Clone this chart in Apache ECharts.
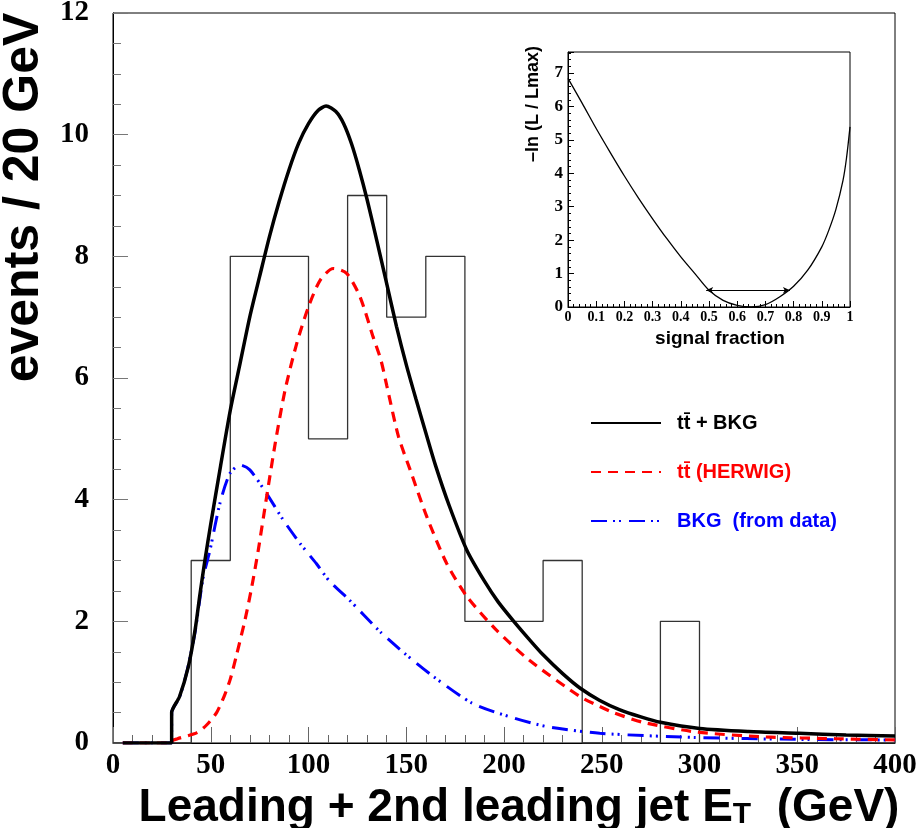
<!DOCTYPE html>
<html>
<head>
<meta charset="utf-8">
<script src="https://cdn.jsdelivr.net/npm/echarts@6/dist/echarts.min.js"></script>
<style>
html,body{margin:0;padding:0;background:#fff;}
#c{width:920px;height:828px;}
</style>
</head>
<body>
<div id="c"></div>
<script>
// ---- main histogram (data, 20 GeV bins from 0 to 400) ----
const histBinWidth = 20;
const histCounts = [0,0,3,8,8,5,9,7,8,2,2,3,0,0,2,0,0,0,0,0];

// ---- tt + BKG (total fit) ----
const totX = [5,30,30,34,38.5,42,44.5,47,50,55,60,65,70,75,80,85,90,95,100,105,109,114,118,122,126,130,135,140,145,150,155,160,165,172,181,190,197,205,213,220,230,239,249,259,270,280,300,325,351,375,400];
const totY = [0,0,0.5,0.76,1.25,1.86,2.45,3.0,3.6,4.55,5.47,6.24,7.01,7.67,8.32,8.9,9.42,9.86,10.18,10.4,10.47,10.38,10.18,9.85,9.42,8.93,8.25,7.55,6.85,6.22,5.65,5.1,4.56,3.9,3.17,2.66,2.32,2.0,1.7,1.45,1.14,0.9,0.7,0.55,0.43,0.34,0.24,0.19,0.16,0.13,0.115];

// ---- tt (HERWIG) ----
const ttX = [5,30,30,33,43,48,53,57,60,63,67.5,71,74.3,78.6,83,88,94,100,106,112.7,119.5,126.3,133,137,140,146,152,160.5,170.7,181,196,213,239,249,256,271,298.5,334,370,400];
const ttY = [0,0,0.03,0.07,0.17,0.3,0.5,0.78,1.05,1.42,2.02,2.57,3.17,4.05,4.93,5.8,6.57,7.17,7.61,7.8,7.72,7.34,6.68,6.3,5.88,5.04,4.49,3.72,2.95,2.41,1.86,1.36,0.76,0.6,0.5,0.34,0.18,0.1,0.07,0.05];

// ---- BKG (from data) ----
const bkgX = [5,30,30,34,38,42,46,49.6,54.7,59.8,65,70,78.6,87,95.7,104,111,120,136.6,150,164,184,205,222,249,298,350,400];
const bkgY = [0,0,0.5,0.75,1.2,1.83,2.7,3.17,3.94,4.43,4.57,4.49,4.1,3.67,3.28,2.95,2.65,2.38,1.83,1.45,1.09,0.65,0.41,0.27,0.16,0.09,0.06,0.05];

// ---- inset: -ln(L/Lmax) vs signal fraction ----
const fracX = [0,0.05,0.1,0.15,0.2,0.25,0.3,0.35,0.4,0.45,0.5,0.55,0.6,0.65,0.7,0.75,0.8,0.85,0.9,0.925,0.95,0.975,0.9875,1.0];
const nllY  = [6.84,6.1,5.34,4.62,3.92,3.26,2.64,2.05,1.5,1.0,0.5,0.2,0.05,0.0,0.07,0.3,0.62,1.1,1.8,2.3,2.92,3.78,4.45,5.39];
const errLow = 0.49, errHigh = 0.787, errLevel = 0.5;

const xTicksMain = [0,50,100,150,200,250,300,350,400];
const yTicksMain = [0,2,4,6,8,10,12];

// names
const nameTot = 'tt\u0304 + BKG';
const nameTT = 'tt\u0304 (HERWIG)';
const nameBkg = 'BKG  (from data)';

function zip(a, b) { return a.map((v, i) => [v, b[i]]); }

const histData = histCounts.map((c, i) => [i * histBinWidth, c]);
histData.push([histCounts.length * histBinWidth, 0]);

const serif = 'Liberation Serif';
const sans = 'Liberation Sans';

const chart = echarts.init(document.getElementById('c'), null, {renderer: 'canvas'});
chart.setOption({
  animation: false,
  backgroundColor: '#fff',
  grid: [
    {left: 113, top: 13, width: 782, height: 730, show: true, borderColor: '#000', borderWidth: 1, outerBoundsMode: 'none', containLabel: false},
    {left: 568, top: 52, width: 282, height: 255, show: true, borderColor: '#000', borderWidth: 1, z: 5, outerBoundsMode: 'none', containLabel: false}
  ],
  xAxis: [
    {
      type: 'value', gridIndex: 0, min: xTicksMain[0], max: xTicksMain[xTicksMain.length-1], interval: 50,
      axisLine: {show: true, lineStyle: {color: '#000', width: 1}},
      axisTick: {show: true, inside: true, length: 16, lineStyle: {color: '#666', width: 1}},
      minorTick: {show: true, splitNumber: 5, length: 8, lineStyle: {color: '#666', width: 1}},
      splitLine: {show: false},
      axisLabel: {margin: 8, fontFamily: serif, fontWeight: 'bold', fontSize: 29, color: '#000'},
      name: 'Leading + 2nd leading jet E{sub|T}  (GeV)',
      nameLocation: 'middle', nameGap: 33,
      nameTextStyle: {fontFamily: sans, fontWeight: 'bold', fontSize: 46, color: '#000', padding: [0,0,0,30],
        rich: {sub: {fontFamily: sans, fontWeight: 'bold', fontSize: 30, color: '#000', padding: [14,0,0,0]}}}
    },
    {
      type: 'value', gridIndex: 1, min: 0, max: 1, interval: 0.1,
      axisLine: {show: true, lineStyle: {color: '#000', width: 1}},
      axisTick: {show: true, inside: true, length: 6, lineStyle: {color: '#000', width: 1}},
      minorTick: {show: true, splitNumber: 5, length: 3, lineStyle: {color: '#000', width: 1}},
      splitLine: {show: false},
      axisLabel: {margin: 3, fontFamily: serif, fontWeight: 'bold', fontSize: 14, color: '#000'},
      name: 'signal fraction', nameLocation: 'middle', nameGap: 22,
      nameTextStyle: {fontFamily: sans, fontWeight: 'bold', fontSize: 19, color: '#000', padding: [0,0,0,22]}
    }
  ],
  yAxis: [
    {
      type: 'value', gridIndex: 0, min: yTicksMain[0], max: yTicksMain[yTicksMain.length-1], interval: 2,
      axisLine: {show: true, lineStyle: {color: '#000', width: 1}},
      axisTick: {show: true, inside: true, length: 15, lineStyle: {color: '#777', width: 1}},
      minorTick: {show: true, splitNumber: 4, length: 8, lineStyle: {color: '#777', width: 1}},
      splitLine: {show: false},
      axisLabel: {margin: 24, fontFamily: serif, fontWeight: 'bold', fontSize: 29, color: '#000'},
      name: 'events / 20 GeV', nameLocation: 'middle', nameGap: 62,
      nameTextStyle: {fontFamily: sans, fontWeight: 'bold', fontSize: 50, color: '#000', padding: [0,0,0,361]}
    },
    {
      type: 'value', gridIndex: 1, min: 0, max: 7.63, interval: 1,
      axisLine: {show: true, lineStyle: {color: '#000', width: 1}},
      axisTick: {show: true, inside: true, length: 6, lineStyle: {color: '#000', width: 1}},
      minorTick: {show: true, splitNumber: 5, length: 3, lineStyle: {color: '#000', width: 1}},
      splitLine: {show: false},
      axisLabel: {margin: 5, fontFamily: serif, fontWeight: 'bold', fontSize: 17, color: '#000', showMaxLabel: false},
      name: '\u2013ln (L / Lmax)', nameLocation: 'middle', nameGap: 26,
      nameTextStyle: {fontFamily: sans, fontWeight: 'bold', fontSize: 18, color: '#000', padding: [0,0,0,151]}
    }
  ],
  legend: {
    orient: 'vertical', left: 585, top: 408, itemWidth: 70, itemHeight: 20, itemGap: 29,
    selectedMode: false,
    itemStyle: {opacity: 0},
    textStyle: {fontFamily: sans, fontWeight: 'bold', fontSize: 20, padding: [0,0,0,11]},
    data: [
      {name: nameTot, textStyle: {color: '#000'}},
      {name: nameTT, textStyle: {color: '#ff0000'}},
      {name: nameBkg, textStyle: {color: '#0000ff'}}
    ]
  },
  series: [
    {
      name: 'data', type: 'line', xAxisIndex: 0, yAxisIndex: 0, step: 'end', symbol: 'none',
      data: histData, lineStyle: {color: '#333', width: 1.3}, z: 2
    },
    {
      name: nameBkg, type: 'line', xAxisIndex: 0, yAxisIndex: 0, symbol: 'none', smooth: 0.25,
      data: zip(bkgX, bkgY), itemStyle: {color: '#0000ff'},
      lineStyle: {color: '#0000ff', width: 3, type: [16,6,2,4,2,8]}, z: 3
    },
    {
      name: nameTT, type: 'line', xAxisIndex: 0, yAxisIndex: 0, symbol: 'none', smooth: 0.25,
      data: zip(ttX, ttY), itemStyle: {color: '#ff0000'},
      lineStyle: {color: '#ff0000', width: 3.2, type: [10,7]}, z: 3
    },
    {
      name: nameTot, type: 'line', xAxisIndex: 0, yAxisIndex: 0, symbol: 'none', smooth: 0.25,
      data: zip(totX, totY), itemStyle: {color: '#000'},
      lineStyle: {color: '#000', width: 3.5}, z: 4
    },
    {
      name: 'nll', type: 'line', xAxisIndex: 1, yAxisIndex: 1, symbol: 'none', smooth: 0.3,
      data: zip(fracX, nllY), lineStyle: {color: '#000', width: 1.3}, z: 6,
      markLine: {
        silent: true, symbol: ['arrow', 'arrow'], symbolSize: [5, 7],
        label: {show: false},
        lineStyle: {color: '#000', width: 1, type: 'solid'},
        data: [[{coord: [errLow, errLevel]}, {coord: [errHigh, errLevel]}]]
      }
    }
  ]
});
</script>
</body>
</html>
